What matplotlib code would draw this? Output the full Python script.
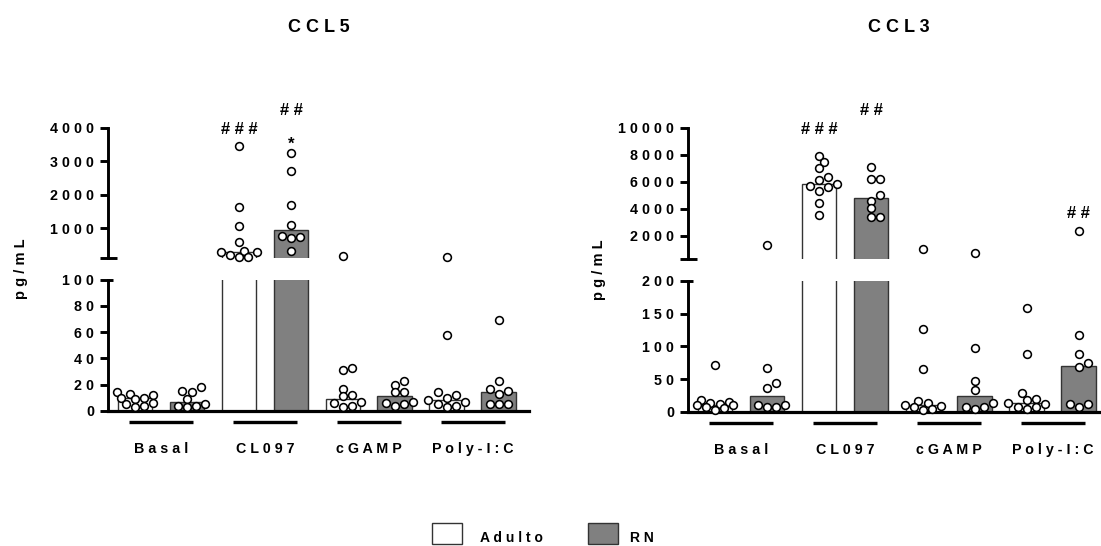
import numpy as np
import matplotlib
matplotlib.use("Agg")
import matplotlib.pyplot as plt
import matplotlib.transforms as mtransforms
from matplotlib.patches import Rectangle

plt.rcParams['font.family'] = ['Liberation Sans', 'DejaVu Sans']
plt.rcParams['font.weight'] = 'bold'

groups = ["Basal", "CL097", "cGAMP", "Poly-I:C"]
series = ["Adulto", "RN"]
colors = ["white", "#808080"]

# CCL5 (pg/mL), each point
ccl5_basal_adulto = [14, 13, 12, 10, 10, 9, 6, 5, 4, 3]
ccl5_basal_rn = [18, 15, 14, 9, 5, 4, 4, 3]
ccl5_cl097_adulto = [3460, 1620, 1060, 600, 330, 300, 290, 200, 150, 140]
ccl5_cl097_rn = [3240, 2710, 1700, 1100, 780, 750, 700, 320]
ccl5_cgamp_adulto = [173, 33, 31, 17, 12, 11, 7, 6, 4, 3]
ccl5_cgamp_rn = [23, 20, 14, 14, 7, 6, 5, 4]
ccl5_poly_adulto = [140, 58, 14, 12, 10, 8, 7, 5, 4, 3]
ccl5_poly_rn = [69, 23, 17, 15, 13, 5, 5, 5]
ccl5_median = [9.5, 7, 300, 950, 9, 11, 8, 14]

# CCL3 (pg/mL)
ccl3_basal_adulto = [71, 18, 15, 13, 12, 11, 10, 8, 6, 3]
ccl3_basal_rn = [1310, 67, 44, 37, 10, 10, 7, 7]
ccl3_cl097_adulto = [7930, 7480, 7000, 6330, 6130, 5830, 5680, 5630, 5330, 4400, 3530]
ccl3_cl097_rn = [7110, 6200, 6180, 5010, 4590, 4030, 3360, 3360]
ccl3_cgamp_adulto = [1000, 127, 65, 17, 13, 10, 9, 7, 5, 3]
ccl3_cgamp_rn = [740, 97, 47, 33, 14, 8, 8, 5]
ccl3_poly_adulto = [159, 89, 28, 20, 18, 14, 12, 8, 7, 5]
ccl3_poly_rn = [2350, 118, 88, 75, 68, 12, 12, 8]
ccl3_median = [11, 23.5, 5830, 4800, 10, 24, 14, 70]

ccl5_points = [ccl5_basal_adulto, ccl5_basal_rn, ccl5_cl097_adulto, ccl5_cl097_rn,
               ccl5_cgamp_adulto, ccl5_cgamp_rn, ccl5_poly_adulto, ccl5_poly_rn]
ccl3_points = [ccl3_basal_adulto, ccl3_basal_rn, ccl3_cl097_adulto, ccl3_cl097_rn,
               ccl3_cgamp_adulto, ccl3_cgamp_rn, ccl3_poly_adulto, ccl3_poly_rn]

# axis segments and ticks
ccl5_low_ticks = [0, 20, 40, 60, 80, 100]
ccl5_high_ticks = [100, 1000, 2000, 3000, 4000]
ccl3_low_ticks = [0, 50, 100, 150, 200]
ccl3_high_ticks = [250, 2000, 4000, 6000, 8000, 10000]

# significance marks: (bar index, y value, text)
ccl5_marks = [(2, 3818, "###"), (3, 4385, "##"), (3, 3364, "*")]
ccl3_marks = [(2, 9548, "###"), (3, 10955, "##"), (7, 3311, "##")]

W, H = 1101, 546
fig = plt.figure(figsize=(W / 100, H / 100), dpi=100)


def px_axes(x0, y0, x1, y1):
    return fig.add_axes([x0 / W, 1 - y1 / H, (x1 - x0) / W, (y1 - y0) / H])


def spaced(s):
    return " ".join(s)


def swarm_x(ax, xc, vals, diam):
    # simple greedy beeswarm in pixel space
    to_px = ax.transData.transform
    cx = to_px((xc, 0))[0]
    unit = to_px((1, 0))[0] - to_px((0, 0))[0]
    ys = [to_px((xc, v))[1] for v in vals]
    xs = np.zeros(len(vals))
    placed = []
    steps = [0, 1, -1, 2, -2, 3, -3, 4, -4]
    for i in np.argsort(ys):
        y = ys[i]
        best, best_d = None, -1
        for s in steps:
            x = cx + s * diam * 0.5
            d = min([np.hypot(x - px, y - py) for px, py in placed] + [1e9])
            if d >= diam * 0.8:
                best = x
                break
            if d > best_d:
                best, best_d = x, d
        placed.append((best, y))
        xs[i] = xc + (best - cx) / unit
    return xs


def panel(x0, x1, title, points, medians, low_ticks, high_ticks, marks, hi_bot_px):
    hi = px_axes(x0, 127.7, x1, hi_bot_px)
    lo = px_axes(x0, hi_bot_px + 21.5, x1, hi_bot_px + 152.5)
    pos = np.arange(len(points))
    for ax, ticks in [(lo, low_ticks), (hi, high_ticks)]:
        ax.set_xlim(-0.52, 7.58)
        ax.set_ylim(ticks[0], ticks[-1])
        ax.bar(pos, medians, width=0.67, color=colors * 4, edgecolor="#333333",
               linewidth=1, zorder=2)
        for sp in ["top", "right"]:
            ax.spines[sp].set_visible(False)
        ax.spines["left"].set_linewidth(2.1)
        ax.set_xticks([])
        ax.set_yticks(ticks)
        ax.tick_params(axis="y", length=6, width=2.1, pad=4, labelsize=10.3)
        ax.patch.set_alpha(0)
    hi.spines["bottom"].set_visible(False)
    lo.spines["bottom"].set_linewidth(2.3)
    lo.set_yticklabels([spaced(str(t)) for t in low_ticks], fontweight="bold")
    hi.set_yticklabels([""] + [spaced(str(t)) for t in high_ticks[1:]], fontweight="bold")
    # GraphPad style break caps
    hi.plot([0, 0.021], [0, 0], color="black", lw=2.1, transform=hi.transAxes,
            clip_on=False, solid_capstyle="butt")
    lo.plot([0, 0.012], [1, 1], color="black", lw=2.1, transform=lo.transAxes,
            clip_on=False, solid_capstyle="butt")

    split = high_ticks[0]
    for i, vals in enumerate(points):
        for ax, part in [(lo, [v for v in vals if v < split]),
                         (hi, [v for v in vals if v >= split])]:
            if not part:
                continue
            xs = swarm_x(ax, pos[i], part, 9.2)
            ax.plot(xs, part, "o", ms=5.6, mfc="white", mec="black", mew=1.15,
                    linestyle="none", clip_on=False, zorder=4)

    for i, y, txt in marks:
        hi.text(pos[i], y, spaced(txt), ha="center", va="baseline", fontsize=12,
                fontweight="bold", clip_on=False)

    trans = mtransforms.blended_transform_factory(lo.transData, lo.transAxes)
    for g, name in enumerate(groups):
        lo.plot([2 * g - 0.115, 2 * g + 1.115], [-0.089, -0.089], color="black", lw=2.4,
                solid_capstyle="butt", transform=trans, clip_on=False)
        lo.text(2 * g + 0.5, -0.29, spaced(name), ha="center", va="center", fontsize=10.3,
                fontweight="bold", transform=trans)

    fig.text((x0 + x1) / 2 / W, 1 - 28 / H, spaced(title), ha="center", va="center",
             fontsize=13, fontweight="bold")
    return hi, lo


panel(108, 529, "CCL5", ccl5_points, ccl5_median, ccl5_low_ticks, ccl5_high_ticks,
      ccl5_marks, 258.3)
panel(688, 1109, "CCL3", ccl3_points, ccl3_median, ccl3_low_ticks, ccl3_high_ticks,
      ccl3_marks, 259.3)

fig.text(21 / W, 1 - 269 / H, spaced("pg/mL"), rotation=90, ha="center", va="center",
         fontsize=10.5, fontweight="bold")
fig.text(599 / W, 1 - 270 / H, spaced("pg/mL"), rotation=90, ha="center", va="center",
         fontsize=10.5, fontweight="bold")

# legend
for bx, tx, c, name in [(432, 480, colors[0], series[0]), (588, 630, colors[1], series[1])]:
    fig.add_artist(Rectangle((bx / W, 1 - 544 / H), 30 / W, 21 / H, facecolor=c,
                             edgecolor="#333333", lw=1, transform=fig.transFigure))
    fig.text(tx / W, 1 - 538 / H, spaced(name), ha="left", va="center", fontsize=10,
             fontweight="bold")

fig.savefig("out.png", dpi=100)
